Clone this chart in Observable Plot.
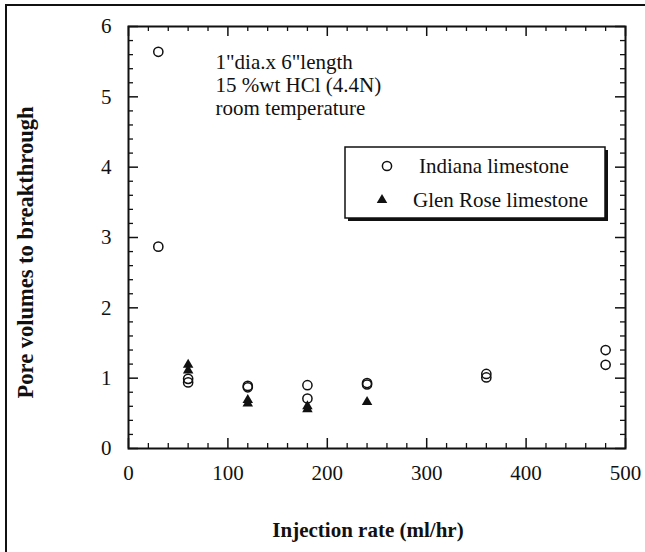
<!DOCTYPE html>
<html>
<head>
<meta charset="utf-8">
<script src="https://cdn.jsdelivr.net/npm/d3@7"></script>
<script src="https://cdn.jsdelivr.net/npm/@observablehq/plot@0.6"></script>
<style>
  html, body { margin: 0; padding: 0; background: #fff; }
</style>
</head>
<body>
<div id="chart"></div>
<script>
// Data
const indianaRate = [30, 30, 60, 60, 120, 120, 180, 180, 240, 240, 360, 360, 480, 480];
const indianaPV   = [5.64, 2.87, 0.99, 0.94, 0.89, 0.87, 0.90, 0.71, 0.93, 0.91, 1.06, 1.01, 1.40, 1.19];
const glenRate = [60, 60, 120, 120, 180, 180, 240];
const glenPV   = [1.19, 1.11, 0.69, 0.64, 0.60, 0.56, 0.66];

const xMajor = [0, 100, 200, 300, 400, 500];
const yMajor = [0, 1, 2, 3, 4, 5, 6];
const xMinor = d3.range(0, 501, 20).filter(v => v % 100 !== 0);
const yMinor = d3.range(0, 31).map(i => i / 5).filter(v => Math.abs(v - Math.round(v)) > 1e-9);

const seriesNames = ["Indiana limestone", "Glen Rose limestone"];
const annotationLines = ["1\"dia.x 6\"length", "15 %wt HCl (4.4N)", "room temperature"];
const xTitle = "Injection rate (ml/hr)";
const yTitle = "Pore volumes to breakthrough";

const indiana = indianaRate.map((x, i) => ({x, y: indianaPV[i]}));
const glen = glenRate.map((x, i) => ({x, y: glenPV[i]}));

const FONT = "'Liberation Serif', 'Times New Roman', serif";
const INK = "#111";
const W = 645, H = 552, ML = 128, MR = 20, MT = 26, MB = 104;
const PW = W - ML - MR, PH = H - MT - MB;

// inward ticks on all four sides of the frame
function inwardTicks(len, sw, xs, ys) {
  const s = {stroke: INK, strokeWidth: sw};
  return [
    Plot.tickX(xs, {x: d => d, insetTop: PH - len, ...s}),
    Plot.tickX(xs, {x: d => d, insetBottom: PH - len, ...s}),
    Plot.tickY(ys, {y: d => d, insetRight: PW - len, ...s}),
    Plot.tickY(ys, {y: d => d, insetLeft: PW - len, ...s})
  ];
}

const chart = Plot.plot({
  width: W, height: H, marginLeft: ML, marginRight: MR, marginTop: MT, marginBottom: MB,
  style: {fontFamily: FONT, fontSize: "21px", color: INK, background: "transparent"},
  x: {domain: [0, 500]},
  y: {domain: [0, 6]},
  marks: [
    Plot.axisX(xMajor, {anchor: "bottom", tickSize: 0, tickPadding: 17, fontSize: 21, tickFormat: d => String(d), label: null}),
    Plot.axisY(yMajor, {anchor: "left", tickSize: 0, tickPadding: 17, fontSize: 21, tickFormat: d => String(d), label: null}),
    // annotation
    Plot.text([annotationLines.join("\n")], {
      frameAnchor: "top-left", dx: 87, dy: 26, text: d => d,
      textAnchor: "start", lineAnchor: "top", lineHeight: 1.1, fontSize: 21, fill: INK
    }),
    // data
    Plot.dot(indiana, {x: "x", y: "y", r: 4.6, stroke: INK, strokeWidth: 1.5, fill: "none"}),
    Plot.dot(glen, {x: "x", y: "y", r: 3.9, symbol: "triangle", fill: INK, stroke: "none"}),
    // axis titles
    Plot.text([xTitle], {frameAnchor: "bottom", dx: -9, dy: 82, text: d => d, textAnchor: "middle", lineAnchor: "middle", fontSize: 21, fontWeight: "bold", fill: INK}),
    Plot.text([yTitle], {frameAnchor: "left", dx: -103, dy: 15, rotate: -90, text: d => d, textAnchor: "middle", lineAnchor: "middle", fontSize: 22.5, fontWeight: "bold", fill: INK}),
    Plot.frame({stroke: INK, strokeWidth: 2, fill: "none"}),
    ...inwardTicks(10, 1.5, xMajor, yMajor),
    ...inwardTicks(5, 1.3, xMinor, yMinor)
  ]
});
document.getElementById("chart").appendChild(chart);

// Outer page border (top and left edges visible) and the legend box, drawn into the same SVG
const svg = d3.select(chart);
svg.append("path").attr("d", "M6,560V5H650").attr("fill", "none").attr("stroke", INK).attr("stroke-width", 2);

const lg = svg.append("g").attr("font-family", FONT).attr("font-size", 21).attr("fill", INK);
lg.append("rect").attr("x", 348).attr("y", 150).attr("width", 260).attr("height", 71).attr("fill", INK);
lg.append("rect").attr("x", 345).attr("y", 147).attr("width", 260).attr("height", 71)
  .attr("fill", "#fff").attr("stroke", INK).attr("stroke-width", 1.5);
lg.append("circle").attr("cx", 387).attr("cy", 166).attr("r", 4.6)
  .attr("fill", "none").attr("stroke", INK).attr("stroke-width", 1.5);
lg.append("path").attr("transform", "translate(382,200)")
  .attr("d", d3.symbol(d3.symbolTriangle, 3.9 * 3.9 * Math.PI)()).attr("fill", INK);
lg.append("text").attr("x", 419).attr("y", 173).attr("text-anchor", "start").text(seriesNames[0]);
lg.append("text").attr("x", 413).attr("y", 207).attr("text-anchor", "start").text(seriesNames[1]);
</script>
</body>
</html>
